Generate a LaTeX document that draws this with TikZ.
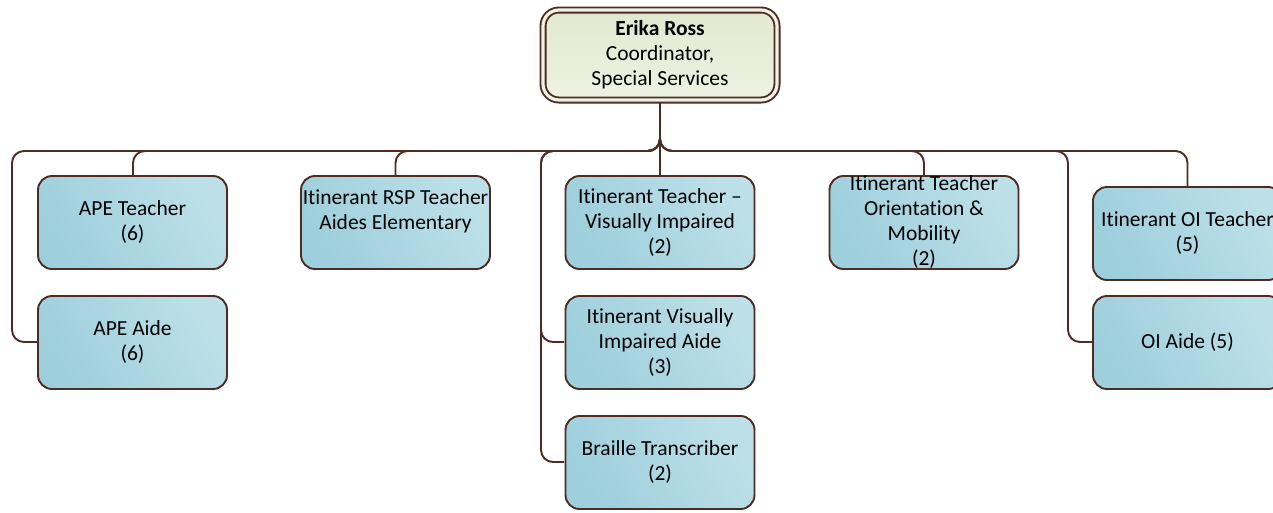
\documentclass[tikz,border=0pt]{standalone}
\usepackage{fontspec}
\setmainfont{Carlito}[Ligatures={TeX,NoCommon}]
\definecolor{ln}{HTML}{4E2C24}
\definecolor{bA}{HTML}{9DCFDC}
\definecolor{bB}{HTML}{BDE0E8}
\definecolor{gA}{HTML}{E2E9CF}
\definecolor{gB}{HTML}{EEF2E3}
\begin{document}
\begin{tikzpicture}[x=1pt,y=-1pt,
  txt/.style={font=\fontsize{21.5}{25}\selectfont, align=center},
  child/.style={txt, rectangle, rounded corners=14pt, draw=ln, line width=1.9pt,
    minimum width=189pt, minimum height=93pt, inner sep=0pt,
    left color=bA, right color=bB, shading angle=120},
  rootbox/.style={txt, rectangle, rounded corners=16pt, draw=ln, line width=1.9pt,
    double=gB, double distance=3.2pt, minimum width=234pt, minimum height=90pt, inner sep=0pt,
    top color=gA, bottom color=gB},
  conn/.style={draw=ln, line width=1.9pt, rounded corners=12pt}]
\useasboundingbox (0,0) rectangle (1273,512);
\fill[white] (0,0) rectangle (1273,512);
\coordinate (bus) at (660,151);
\coordinate (lb) at (12,151);
\coordinate (mb) at (541,151);
\coordinate (rb) at (1068,151);
% connectors
\draw[conn] (660,100) -- (bus) -| (133,175);
\draw[conn] (660,100) -- (bus) -- (lb) |- (37,342);
\draw[conn] (660,100) -- (bus) -| (395.5,175);
\draw[conn] (660,100) -- (bus) -- (mb) |- (564,342);
\draw[conn] (660,100) -- (bus) -- (mb) |- (564,462);
\draw[conn] (660,100) -- (660,175);
\draw[conn] (660,100) -- (bus) -| (924,175);
\draw[conn] (660,100) -- (bus) -| (1187.5,186);
\draw[conn] (660,100) -- (bus) -- (rb) |- (1092,342);
% nodes
\node[rootbox] (root) at (660,55) {\textbf{Erika Ross}\\Coordinator,\\Special Services};
\node[child] (ape1) at (132.5,222.5) {APE Teacher\\(6)};
\node[child] (ape2) at (132.5,342.5) {APE Aide\\(6)};
\node[child] (rsp) at (395.5,222.5) {Itinerant RSP Teacher\\Aides Elementary\\\mbox{}};
\node[child] (vit) at (660,222.5) {Itinerant Teacher –\\Visually Impaired\\(2)};
\node[child] (via) at (660,342.5) {Itinerant Visually\\Impaired Aide\\(3)};
\node[child] (brl) at (660,462.5) {Braille Transcriber\\(2)};
\node[child] (om) at (924,222.5) {Itinerant Teacher\\Orientation \&\\Mobility\\(2)};
\node[child] (oit) at (1187.5,233.5) {Itinerant OI Teacher\\(5)};
\node[child] (oia) at (1187.5,342.5) {OI Aide (5)};
\end{tikzpicture}
\end{document}
